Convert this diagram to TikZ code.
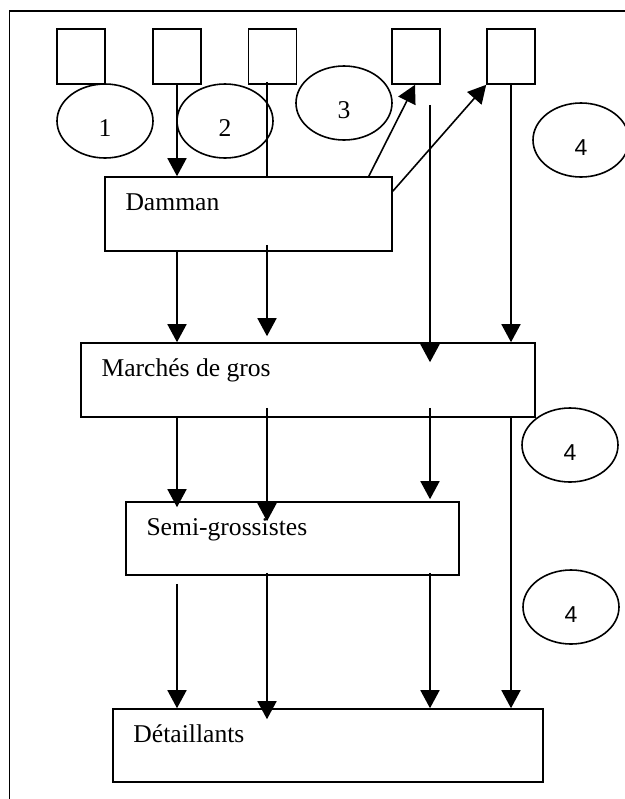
\documentclass[tikz,border=0pt]{standalone}
\usepackage{fontspec}
\setmainfont{Liberation Serif}
\newfontfamily\arialfont{Liberation Sans}
\usetikzlibrary{arrows.meta,shapes.geometric}

\begin{document}
\begin{tikzpicture}[x=0.5pt,y=-0.5pt,line width=0.8pt,
        smallbox/.style={draw,minimum width=24pt,minimum height=27.5pt,inner sep=0pt},
        bigbox/.style={draw,minimum height=37pt,inner sep=0pt},
        lbl/.style={anchor=base west,xshift=10.25pt,yshift=-17pt,inner sep=0pt,font=\fontsize{12.8}{15}\selectfont},
        num/.style={draw,ellipse,minimum width=48pt,minimum height=37pt,inner sep=0pt,text height=15pt,text depth=0pt,font=\fontsize{12.8}{15}\selectfont},
        numsans/.style={num,font=\arialfont\fontsize{11.5}{14}\selectfont},
        arr/.style={-{Triangle[length=9pt,width=9.5pt]}}]
        \useasboundingbox (0,0) rectangle (625,799);
        \draw (625,11) -- (9.5,11) -- (9.5,799);

        \node[smallbox] (b1) at (81,56.5) {};
        \node[smallbox] (b2) at (177,56.5) {};
        \node[smallbox] (b3) at (272.5,56.5) {};
        \node[smallbox] (b4) at (416,56.5) {};
        \node[smallbox] (b5) at (511,56.5) {};

        \node[num] (e1) at (105,121) {1};
        \node[num] (e2) at (225,121) {2};
        \node[num] (e3) at (344,103) {3};
        \node[numsans] (e4) at (581,140) {4};
        \node[numsans] (e5) at (570,445) {4};
        \node[numsans] (e6) at (571,607) {4};

        \node[bigbox,minimum width=143.5pt,label={[lbl]north west:Damman}] (dam) at (248.5,214) {};
        \node[bigbox,minimum width=227pt,label={[lbl]north west:Marchés de gros}] (mg) at (308,380) {};
        \node[bigbox,minimum width=166.5pt,minimum height=36.5pt,label={[lbl]north west:Semi-grossistes}] (sg) at (292.5,538.5) {};
        \node[bigbox,minimum width=215pt,minimum height=36.5pt,label={[lbl]north west:Détaillants}] (det) at (328,745.5) {};

        \coordinate (ca) at (177,0);
        \coordinate (cb) at (267,0);
        \coordinate (cc) at (430,0);
        \coordinate (cd) at (511,0);

        \draw[arr] (b2.south) -- (b2.south |- dam.north);
        \draw ([yshift=1.5pt]cb |- b3.south) -- (cb |- dam.north);
        \draw[arr] ([xshift=-12pt]dam.north east) -- ([xshift=-0.5pt]b4.south);
        \draw[arr] ([yshift=-7.5pt]dam.north east) -- (b5.south west);
        \draw[arr] ([yshift=-10pt]cc |- b4.south) -- ([yshift=-10pt]cc |- mg.north);
        \draw[arr] (b5.south) -- (b5.south |- mg.north);

        \draw[arr] (ca |- dam.south) -- (ca |- mg.north);
        \draw[arr] ([yshift=3.5pt]cb |- dam.south) -- ([yshift=3pt]cb |- mg.north);

        \draw[arr] (ca |- mg.south) -- ([yshift=-3pt]ca |- sg.north);
        \draw[arr] ([yshift=5pt]cb |- mg.south) -- ([yshift=-10pt]cb |- sg.north);
        \draw[arr] ([yshift=5pt]cc |- mg.south) -- ([yshift=1pt]cc |- sg.north);
        \draw[arr] (cd |- mg.south) -- (cd |- det.north);

        \draw[arr] ([yshift=-4pt]ca |- sg.south) -- (ca |- det.north);
        \draw[arr] ([yshift=1.5pt]cb |- sg.south) -- ([yshift=-5.5pt]cb |- det.north);
        \draw[arr] ([yshift=1.5pt]cc |- sg.south) -- (cc |- det.north);
    \end{tikzpicture}
\end{document}
